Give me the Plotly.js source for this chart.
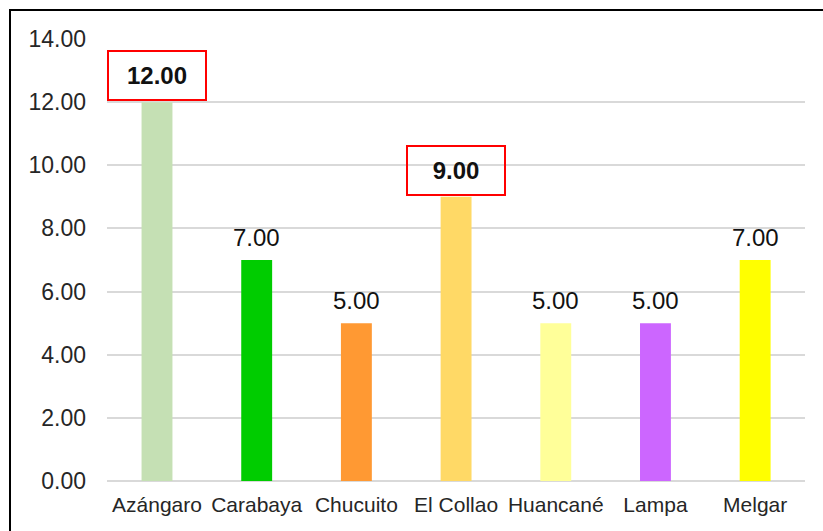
<!DOCTYPE html>
<html>
<head>
<meta charset="utf-8">
<script src="https://cdn.plot.ly/plotly-3.0.1.min.js"></script>
<style>
  html, body { margin: 0; padding: 0; background: #fff; }
  #wrap { position: relative; width: 823px; height: 531px; }
  #chart { width: 823px; height: 531px; }
  #frame { position: absolute; left: 9px; top: 9px; right: -5px; bottom: -5px;
           border-left: 2px solid #000; border-top: 2px solid #000; pointer-events: none; }
</style>
</head>
<body>
<div id="wrap">
  <div id="chart"></div>
  <div id="frame"></div>
</div>
<script>
const categories = ["Azángaro", "Carabaya", "Chucuito", "El Collao", "Huancané", "Lampa", "Melgar"];
const values = [12.00, 7.00, 5.00, 9.00, 5.00, 5.00, 7.00];
const barColors = ["#C5E0B4", "#00CC00", "#FF9933", "#FFD966", "#FFFF99", "#CC66FF", "#FFFF00"];
const highlighted = [true, false, false, true, false, false, false];
const yTickValues = [0, 2, 4, 6, 8, 10, 12, 14];

const fontFamily = "Liberation Sans, Arial, sans-serif";

const trace = {
  type: "bar",
  x: categories,
  y: values,
  width: 0.31,
  marker: { color: barColors, line: { width: 0 } },
  hoverinfo: "x+y"
};

const annotations = categories.map((c, i) => {
  if (highlighted[i]) {
    return {
      x: c, y: values[i], xref: "x", yref: "y",
      text: "<b>" + values[i].toFixed(2) + "</b>",
      showarrow: false, yanchor: "bottom", xanchor: "center",
      font: { family: fontFamily, size: 24, color: "#111" },
      bordercolor: "#FF0000", borderwidth: 2, borderpad: 1,
      width: 94, height: 45, bgcolor: "rgba(255,255,255,0)",
      yshift: 1
    };
  }
  return {
    x: c, y: values[i], xref: "x", yref: "y",
    text: values[i].toFixed(2),
    showarrow: false, yanchor: "bottom", xanchor: "center",
    font: { family: fontFamily, size: 24, color: "#111" },
    yshift: 7
  };
});

const layout = {
  width: 823, height: 531,
  margin: { l: 107, r: 18, t: 39, b: 50 },
  paper_bgcolor: "#fff", plot_bgcolor: "#fff",
  showlegend: false,
  bargap: 0.69,
  font: { family: fontFamily, color: "#262626" },
  xaxis: {
    type: "category",
    showgrid: false, showline: false, zeroline: false, ticks: "",
    ticklabelstandoff: 9,
    tickfont: { family: fontFamily, size: 21, color: "#262626" },
    automargin: false
  },
  yaxis: {
    range: [0, 14], tickvals: yTickValues, tickformat: ".2f",
    showgrid: true, gridcolor: "#D9D9D9", gridwidth: 2,
    zeroline: true, zerolinecolor: "#D9D9D9", zerolinewidth: 2,
    showline: false, ticks: "",
    ticklabelstandoff: 20,
    tickfont: { family: fontFamily, size: 23, color: "#262626" },
    automargin: false
  },
  annotations: annotations
};

Plotly.newPlot("chart", [trace], layout, { displayModeBar: false, staticPlot: true });
</script>
</body>
</html>
